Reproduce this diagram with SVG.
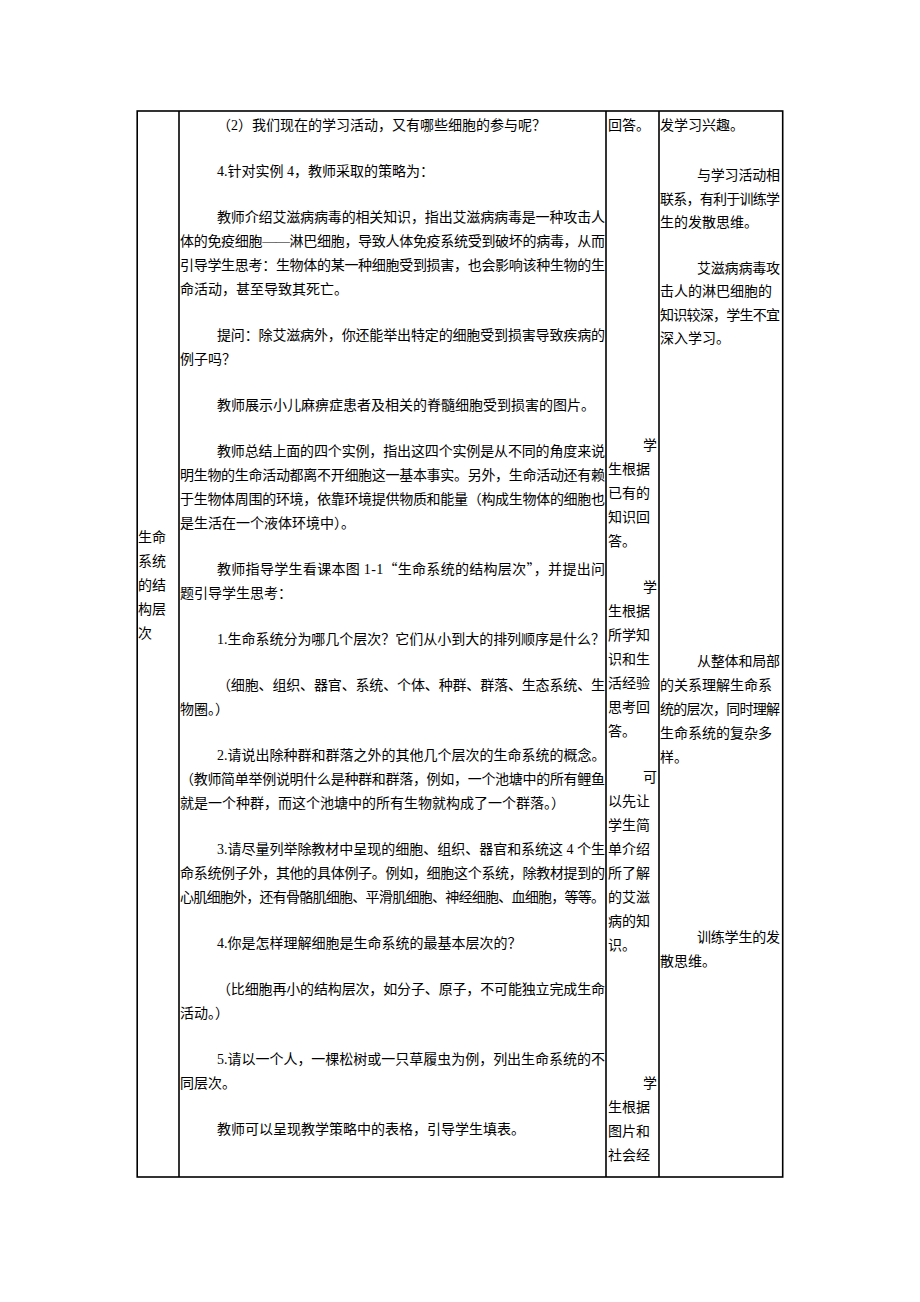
<svg xmlns="http://www.w3.org/2000/svg" width="920" height="1302" viewBox="0 0 920 1302">
<style>
.t{font-family:"Liberation Serif","Noto Sans CJK SC",serif;font-size:14px;fill:#000}
.cjk{font-family:"Noto Sans CJK SC",sans-serif}
.ln{stroke:#000;stroke-width:1.6;fill:none}
</style>
<rect width="920" height="1302" fill="#fff"/>
<g id="table-grid">
<rect class="ln" x="137.2" y="111" width="645.5" height="1066"/>
<line class="ln" x1="179" y1="111" x2="179" y2="1177"/>
<line class="ln" x1="606" y1="111" x2="606" y2="1177"/>
<line class="ln" x1="659" y1="111" x2="659" y2="1177"/>
</g>
<g id="col-topic">
<text class="t" x="138" y="542">生命</text>
<text class="t" x="138" y="566">系统</text>
<text class="t" x="138" y="590">的结</text>
<text class="t" x="138" y="614">构层</text>
<text class="t" x="138" y="638">次</text>
</g>
<g id="col-teacher">
<text class="t" x="217" y="129.5">（2）我们现在的学习活动，又有哪些细胞的参与呢？</text>
<text class="t" x="217" y="175.5">4.针对实例 4，教师采取的策略为：</text>
<text class="t" x="217" y="221.5" textLength="388" lengthAdjust="spacing">教师介绍艾滋病病毒的相关知识，指出艾滋病病毒是一种攻击人</text>
<text class="t" x="180" y="245.5" textLength="425" lengthAdjust="spacing">体的免疫细胞——淋巴细胞，导致人体免疫系统受到破坏的病毒，从而</text>
<text class="t" x="180" y="269.5" textLength="425" lengthAdjust="spacing">引导学生思考：生物体的某一种细胞受到损害，也会影响该种生物的生</text>
<text class="t" x="180" y="293.5">命活动，甚至导致其死亡。</text>
<text class="t" x="217" y="339.5" textLength="388" lengthAdjust="spacing">提问：除艾滋病外，你还能举出特定的细胞受到损害导致疾病的</text>
<text class="t" x="180" y="363.5">例子吗？</text>
<text class="t" x="217" y="409.5">教师展示小儿麻痹症患者及相关的脊髓细胞受到损害的图片。</text>
<text class="t" x="217" y="455.5" textLength="388" lengthAdjust="spacing">教师总结上面的四个实例，指出这四个实例是从不同的角度来说</text>
<text class="t" x="180" y="479.5" textLength="425" lengthAdjust="spacing">明生物的生命活动都离不开细胞这一基本事实。另外，生命活动还有赖</text>
<text class="t" x="180" y="503.5" textLength="425" lengthAdjust="spacing">于生物体周围的环境，依靠环境提供物质和能量（构成生物体的细胞也</text>
<text class="t" x="180" y="527.5">是生活在一个液体环境中）。</text>
<text class="t" x="217" y="573.5" textLength="388" lengthAdjust="spacing">教师指导学生看课本图 1-1<tspan class="cjk">“</tspan>生命系统的结构层次<tspan class="cjk">”</tspan>，并提出问</text>
<text class="t" x="180" y="597.5">题引导学生思考：</text>
<text class="t" x="217" y="643.5" textLength="388" lengthAdjust="spacing">1.生命系统分为哪几个层次？它们从小到大的排列顺序是什么？</text>
<text class="t" x="217" y="689.5" textLength="388" lengthAdjust="spacing">（细胞、组织、器官、系统、个体、种群、群落、生态系统、生</text>
<text class="t" x="180" y="713.5">物圈。）</text>
<text class="t" x="217" y="759.5">2.请说出除种群和群落之外的其他几个层次的生命系统的概念。</text>
<text class="t" x="180" y="783.5" textLength="425" lengthAdjust="spacing">（教师简单举例说明什么是种群和群落，例如，一个池塘中的所有鲤鱼</text>
<text class="t" x="180" y="807.5">就是一个种群，而这个池塘中的所有生物就构成了一个群落。）</text>
<text class="t" x="217" y="853.5" textLength="388" lengthAdjust="spacing">3.请尽量列举除教材中呈现的细胞、组织、器官和系统这 4 个生</text>
<text class="t" x="180" y="877.5" textLength="425" lengthAdjust="spacing">命系统例子外，其他的具体例子。例如，细胞这个系统，除教材提到的</text>
<text class="t" x="180" y="901.5" textLength="425" lengthAdjust="spacing">心肌细胞外，还有骨骼肌细胞、平滑肌细胞、神经细胞、血细胞，等等。</text>
<text class="t" x="217" y="947.5">4.你是怎样理解细胞是生命系统的最基本层次的？</text>
<text class="t" x="217" y="993.5" textLength="388" lengthAdjust="spacing">（比细胞再小的结构层次，如分子、原子，不可能独立完成生命</text>
<text class="t" x="180" y="1017.5">活动。）</text>
<text class="t" x="217" y="1063.5" textLength="388" lengthAdjust="spacing">5.请以一个人，一棵松树或一只草履虫为例，列出生命系统的不</text>
<text class="t" x="180" y="1087.5">同层次。</text>
<text class="t" x="217" y="1133.5">教师可以呈现教学策略中的表格，引导学生填表。</text>
</g>
<g id="col-student">
<text class="t" x="608" y="129.5">回答。</text>
<text class="t" x="643" y="449.5">学</text>
<text class="t" x="608" y="473.5">生根据</text>
<text class="t" x="608" y="497.5">已有的</text>
<text class="t" x="608" y="521.5">知识回</text>
<text class="t" x="608" y="545.5">答。</text>
<text class="t" x="643" y="591.5">学</text>
<text class="t" x="608" y="615.5">生根据</text>
<text class="t" x="608" y="639.5">所学知</text>
<text class="t" x="608" y="663.5">识和生</text>
<text class="t" x="608" y="687.5">活经验</text>
<text class="t" x="608" y="711.5">思考回</text>
<text class="t" x="608" y="735.5">答。</text>
<text class="t" x="643" y="781.5">可</text>
<text class="t" x="608" y="805.5">以先让</text>
<text class="t" x="608" y="829.5">学生简</text>
<text class="t" x="608" y="853.5">单介绍</text>
<text class="t" x="608" y="877.5">所了解</text>
<text class="t" x="608" y="901.5">的艾滋</text>
<text class="t" x="608" y="925.5">病的知</text>
<text class="t" x="608" y="949.5">识。</text>
<text class="t" x="643" y="1088">学</text>
<text class="t" x="608" y="1112">生根据</text>
<text class="t" x="608" y="1136">图片和</text>
<text class="t" x="608" y="1160">社会经</text>
</g>
<g id="col-intent">
<text class="t" x="660" y="129.5">发学习兴趣。</text>
<text class="t" x="697" y="180" textLength="83" lengthAdjust="spacing">与学习活动相</text>
<text class="t" x="660" y="203.5" textLength="120" lengthAdjust="spacing">联系，有利于训练学</text>
<text class="t" x="660" y="227">生的发散思维。</text>
<text class="t" x="697" y="272.5" textLength="83" lengthAdjust="spacing">艾滋病病毒攻</text>
<text class="t" x="660" y="296">击人的淋巴细胞的</text>
<text class="t" x="660" y="319.5" textLength="120" lengthAdjust="spacing">知识较深，学生不宜</text>
<text class="t" x="660" y="343">深入学习。</text>
<text class="t" x="697" y="665.5" textLength="83" lengthAdjust="spacing">从整体和局部</text>
<text class="t" x="660" y="689.5">的关系理解生命系</text>
<text class="t" x="660" y="713.5" textLength="120" lengthAdjust="spacing">统的层次，同时理解</text>
<text class="t" x="660" y="737.5">生命系统的复杂多</text>
<text class="t" x="660" y="761.5">样。</text>
<text class="t" x="697" y="942" textLength="83" lengthAdjust="spacing">训练学生的发</text>
<text class="t" x="660" y="966">散思维。</text>
</g>
</svg>
